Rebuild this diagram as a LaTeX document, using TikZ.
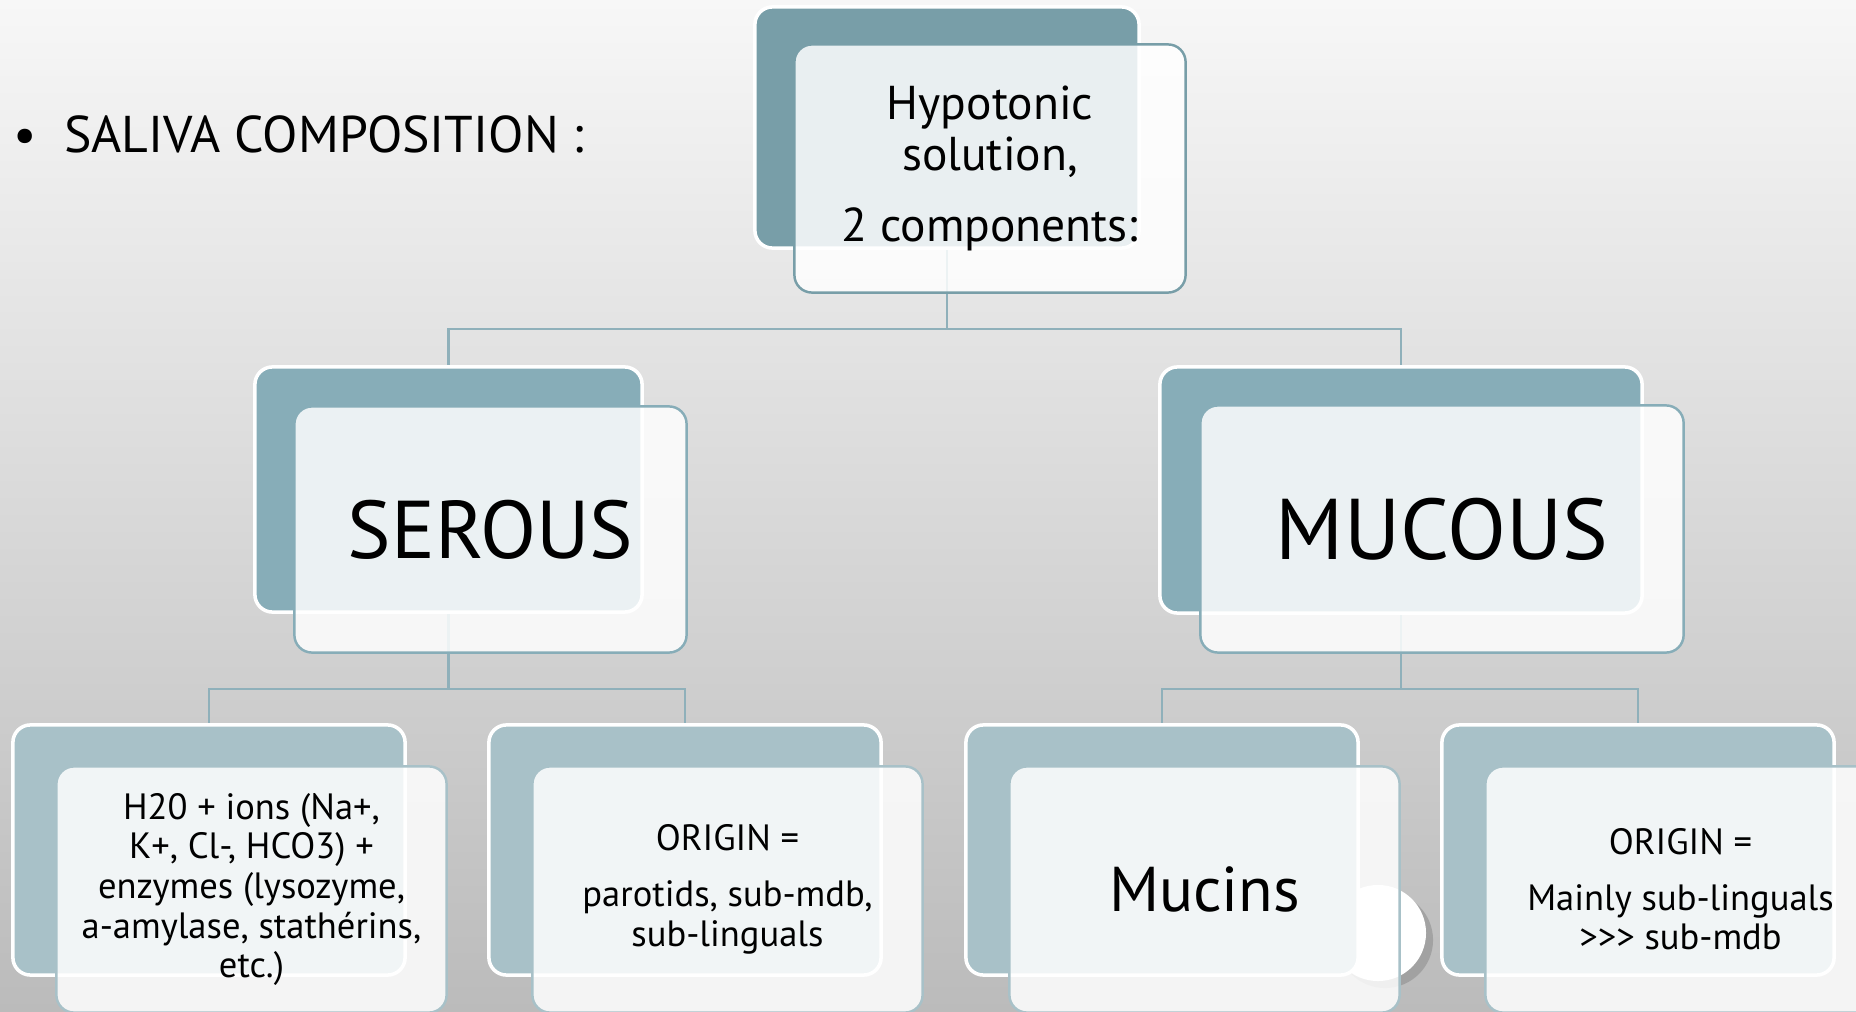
\documentclass[tikz,border=0pt]{standalone}
\usepackage{fontspec}
\setmainfont{PT Sans}
\usetikzlibrary{positioning, backgrounds, shadows}

\definecolor{tealA}{HTML}{789EA8}
\definecolor{tealB}{HTML}{87ADB8}
\definecolor{tealC}{HTML}{A8C1C8}
\definecolor{linkc}{HTML}{8FB0BA}
\definecolor{bgtop}{HTML}{F7F7F7}
\definecolor{bgmid}{HTML}{E2E2E2}
\definecolor{bgbot}{HTML}{BBBBBB}

\begin{document}
\begin{tikzpicture}[
  x=0.01cm, y=-0.01cm,
  back/.style  = {rectangle, draw=white, line width=1pt, fill=#1,
                  rounded corners=5pt, inner sep=0pt},
  front/.style = {rectangle, draw=#1, line width=0.7pt, fill=white,
                  fill opacity=0.84, text opacity=1, rounded corners=5pt,
                  align=center, inner sep=2pt},
  conn/.style  = {draw=linkc, line width=0.6pt},
  title/.style = {font=\fontsize{14.7}{17}\selectfont, inner sep=0pt},
  mid/.style   = {font=\fontsize{13.5}{14.4}\selectfont},
  big/.style   = {font=\fontsize{23.3}{27}\selectfont},
  small/.style = {font=\fontsize{10.4}{11.3}\selectfont},
]
\useasboundingbox (0,0) rectangle (1856,1012);

% -- Title --------------------------------------------------------------------
\node[title, anchor=west] (ttl) at (13,134) {\textbullet\hspace{0.27cm}SALIVA COMPOSITION :};

% -- Top ----------------------------------------------------------------------
\node[back=tealA, minimum width=3.84cm, minimum height=2.41cm] (tb) at (947,127.5) {};
\node[front=tealA, mid, minimum width=3.91cm, minimum height=2.48cm,
      below right=0.38cm and 0.40cm of tb.north west] (tf)
  {Hypotonic\\solution,\\[6pt]2 components:};

% -- Level 2 ------------------------------------------------------------------
\node[back=tealB, minimum width=3.87cm, minimum height=2.45cm] (sb) at (448.5,489.5) {};
\node[front=tealB, big, minimum width=3.92cm, minimum height=2.46cm,
      below right=0.40cm and 0.40cm of sb.north west] (sf) {SEROUS};

\node[back=tealB, minimum width=4.82cm, minimum height=2.46cm] (mb) at (1401,490) {};
\node[front=tealB, big, minimum width=4.83cm, minimum height=2.47cm,
      below right=0.39cm and 0.41cm of mb.north west] (mf) {\fontsize{24.5}{27}\selectfont MUCOUS};

% -- Level 3 ------------------------------------------------------------------
\foreach \nm/\xx in {b1/209, b2/685, b3/1162, b4/1638}
  \node[back=tealC, minimum width=3.92cm, minimum height=2.50cm] (\nm) at (\xx,850) {};

\node[front=tealC, small, minimum width=3.90cm, minimum height=2.46cm,
      below right=0.42cm and 0.44cm of b1.north west] (f1)
  {H20 + ions (Na+,\\K+, Cl-, HCO3) +\\enzymes (lysozyme,\\a-amylase, stathérins,\\etc.)};
\node[front=tealC, small, minimum width=3.90cm, minimum height=2.46cm,
      below right=0.42cm and 0.44cm of b2.north west] (f2)
  {ORIGIN =\\[4.5pt]parotids, sub-mdb,\\sub-linguals};
\node[front=tealC, font=\fontsize{18}{22}\selectfont, minimum width=3.90cm, minimum height=2.46cm,
      below right=0.42cm and 0.44cm of b3.north west] (f3) {Mucins};
\node[front=tealC, small, minimum width=3.90cm, minimum height=2.46cm,
      below right=0.42cm and 0.44cm of b4.north west] (f4)
  {ORIGIN =\\[4.5pt]Mainly sub-linguals\\>{}>{}> sub-mdb};

% -- Background, disc and connectors -----------------------------------------
\begin{scope}[on background layer]
  \fill[top color=bgtop, middle color=bgmid, bottom color=bgbot] (0,0) rectangle (1856,1012);
  \node[circle, fill=white, minimum size=0.96cm,
        drop shadow={shadow xshift=2pt, shadow yshift=-2pt, opacity=0.45}] (disc) at (1378,933) {};
  \coordinate (bus1) at (0,329);
  \coordinate (bus2) at (0,689);
  \foreach \from/\to in {tb/sb, tb/mb}
    \draw[conn] (\from.south) -- (\from.south |- bus1) -| (\to.north);
  \foreach \from/\to in {sb/b1, sb/b2, mb/b3, mb/b4}
    \draw[conn] (\from.south) -- (\from.south |- bus2) -| (\to.north);
\end{scope}

\end{tikzpicture}
\end{document}
